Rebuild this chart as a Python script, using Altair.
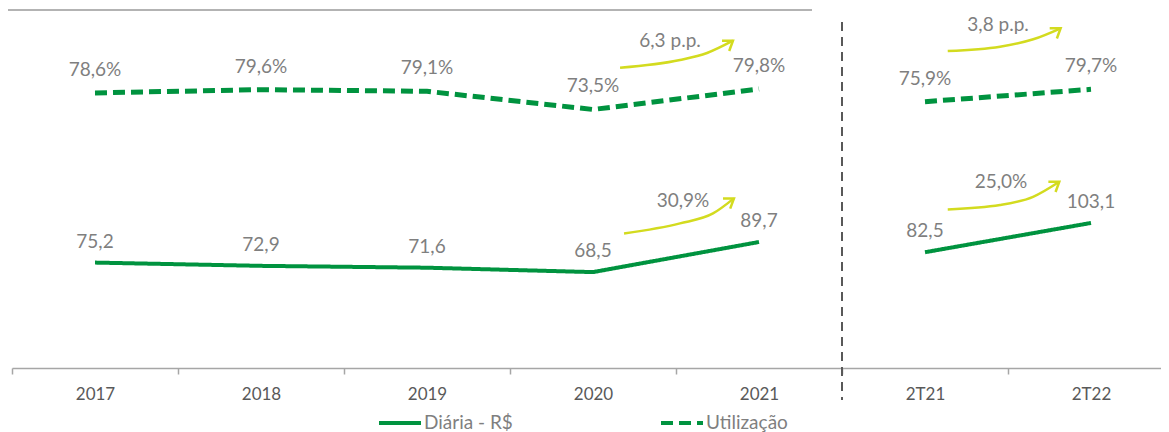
import json
import altair as alt
import pandas as pd

# ---------------- data ----------------
categorias = ["2017", "2018", "2019", "2020", "2021", "2T21", "2T22"]
grupos = ["Anual", "Anual", "Anual", "Anual", "Anual", "Trimestral", "Trimestral"]
diaria = [75.2, 72.9, 71.6, 68.5, 89.7, 82.5, 103.1]
utilizacao = [78.6, 79.6, 79.1, 73.5, 79.8, 75.9, 79.7]
rotulos_diaria = ["75,2", "72,9", "71,6", "68,5", "89,7", "82,5", "103,1"]
rotulos_utilizacao = ["78,6%", "79,6%", "79,1%", "73,5%", "79,8%", "75,9%", "79,7%"]
series = ["Diária - R$", "Utilização"]

# variation arrows (x in category units, y in the units of the series they annotate)
seta_id = ["a1", "a2", "a3", "a4"]
seta_serie = ["Utilização", "Diária - R$", "Utilização", "Diária - R$"]
seta_texto = ["6,3 p.p.", "30,9%", "3,8 p.p.", "25,0%"]
seta_x = [[3.663, 4.024, 4.187, 4.343],
          [3.687, 4.024, 4.223, 4.349],
          [5.637, 5.952, 6.152, 6.317],
          [5.637, 5.952, 6.151, 6.309]]
seta_y = [[86.35, 88.72, 90.88, 94.66],
          [95.75, 102.8, 109.8, 120.4],
          [91.49, 92.82, 95.09, 98.48],
          [112.65, 115.7, 121.5, 132.1]]
texto_x = [3.964, 4.042, 5.94, 5.958]
texto_y = [94.57, 118.5, 99.5, 131.9]

separador = [5]

# ---------------- style ----------------
VERDE = "#00933F"
AMARELO = "#D3DB1F"
CINZA_ROTULO = "#7F7F7F"
CINZA_EIXO = "#595959"
CINZA_LINHA = "#A6A6A6"
FONTE = "Lato"

W, H = 1149, 358
PASSO = 166                 # pixel width of one category slot; the last slot runs past the page edge
X_MAX = W / PASSO
dom_d = [1, 253]
dom_u = [-6, 104.1]

pos = [i + 0.5 for i in range(len(categorias))]

linhas = pd.DataFrame({
    "pos": pos * 2,
    "categoria": categorias * 2,
    "grupo": grupos * 2,
    "serie": [series[0]] * len(categorias) + [series[1]] * len(categorias),
    "valor": diaria + utilizacao,
    "rotulo": rotulos_diaria + rotulos_utilizacao,
})

rows = []
for k in range(len(seta_id)):
    for j, (xx, yy) in enumerate(zip(seta_x[k], seta_y[k])):
        rows.append({"seta": seta_id[k], "serie": seta_serie[k], "ordem": j, "pos": xx, "valor": yy})
setas = pd.DataFrame(rows)
pontas = pd.DataFrame({
    "seta": seta_id, "serie": seta_serie,
    "pos": [s[-1] for s in seta_x], "valor": [s[-1] for s in seta_y],
})
textos = pd.DataFrame({"seta": seta_id, "serie": seta_serie, "texto": seta_texto,
                       "pos": texto_x, "valor": texto_y})
sep = pd.DataFrame({"pos": separador})

xscale = alt.Scale(domain=[0, X_MAX], nice=False, zero=False)


def X(axis=None):
    return alt.X("pos:Q", scale=xscale, axis=axis)


def Y(dom):
    return alt.Y("valor:Q", scale=alt.Scale(domain=dom, nice=False, zero=False), axis=None)


leg = alt.Legend(orient="none", legendX=365, legendY=390, direction="horizontal",
                 title=None, symbolType="stroke", symbolSize=1764, symbolStrokeWidth=4,
                 labelFont=FONTE, labelFontSize=19, labelColor=CINZA_ROTULO,
                 labelOffset=1, columnPadding=140, padding=0)
cor = alt.Color("serie:N", scale=alt.Scale(domain=series, range=[VERDE, VERDE]), legend=leg)
traco = alt.StrokeDash("serie:N", scale=alt.Scale(domain=series, range=[[1, 0], [12, 6]]), legend=leg)

axis_ticks = alt.Axis(orient="bottom", values=list(range(len(categorias))), labels=False,
                      ticks=True, tickSize=6, tickColor=CINZA_LINHA, domain=True,
                      domainColor=CINZA_LINHA, domainWidth=1.5, tickWidth=1.5, grid=False, title=None)
label_expr = json.dumps(categorias) + "[floor(datum.value)]"
axis_labels = alt.Axis(orient="bottom", values=pos, labelExpr=label_expr, ticks=False, tickSize=0,
                       domain=False, grid=False, title=None, labelFont=FONTE, labelFontSize=17,
                       labelFontWeight="normal", labelColor=CINZA_EIXO, labelPadding=18)

base = alt.Chart(linhas)

linha_d = base.transform_filter(alt.datum.serie == series[0]).mark_line(strokeWidth=4).encode(
    x=X(axis_ticks), y=Y(dom_d), color=cor, strokeDash=traco, detail="grupo:N")
linha_u = base.transform_filter(alt.datum.serie == series[1]).mark_line(strokeWidth=5).encode(
    x=X(axis_labels), y=Y(dom_u), color=cor, strokeDash=traco, detail="grupo:N")

rot_d = base.transform_filter(alt.datum.serie == series[0]).mark_text(
    font=FONTE, fontSize=19, color=CINZA_ROTULO, dy=-21, baseline="middle").encode(
    x=X(), y=Y(dom_d), text="rotulo:N")
rot_u = base.transform_filter(alt.datum.serie == series[1]).mark_text(
    font=FONTE, fontSize=19, color=CINZA_ROTULO, dy=-23, baseline="middle").encode(
    x=X(), y=Y(dom_u), text="rotulo:N")


def seta_layers(serie, dom):
    s = alt.Chart(setas).transform_filter(alt.datum.serie == serie).mark_line(
        interpolate="monotone", color=AMARELO, strokeWidth=2.5).encode(
        x=X(), y=Y(dom), detail="seta:N", order="ordem:Q")
    p = alt.Chart(pontas).transform_filter(alt.datum.serie == serie).mark_point(
        shape="M-1,-0.7L0,0L-1,0.7", filled=False, color=AMARELO, strokeWidth=2.5,
        size=320, angle=325, opacity=1).encode(x=X(), y=Y(dom))
    t = alt.Chart(textos).transform_filter(alt.datum.serie == serie).mark_text(
        font=FONTE, fontSize=19, color=CINZA_ROTULO, baseline="middle").encode(
        x=X(), y=Y(dom), text="texto:N")
    return [s, p, t]


separa = alt.Chart(sep).mark_rule(color=CINZA_EIXO, strokeWidth=2, strokeDash=[9, 6]).encode(
    x=X(), y=alt.value(12), y2=alt.value(390))

topo = alt.Chart(sep).mark_rule(color="#B3B3B3", strokeWidth=2).encode(
    x=alt.value(-4), x2=alt.value(800), y=alt.value(0))

chart = alt.layer(
    topo, separa, linha_d, linha_u, rot_d, rot_u,
    *seta_layers(series[1], dom_u), *seta_layers(series[0], dom_d)
).resolve_scale(y="independent").resolve_axis(x="independent").properties(
    width=W, height=H,
    autosize=alt.AutoSizeParams(type="none"),
    padding={"left": 4, "top": 2, "right": 0, "bottom": 64},
    background="white",
).configure_view(stroke=None)

chart.save("out.html", embed_options={"renderer": "svg", "actions": False})
